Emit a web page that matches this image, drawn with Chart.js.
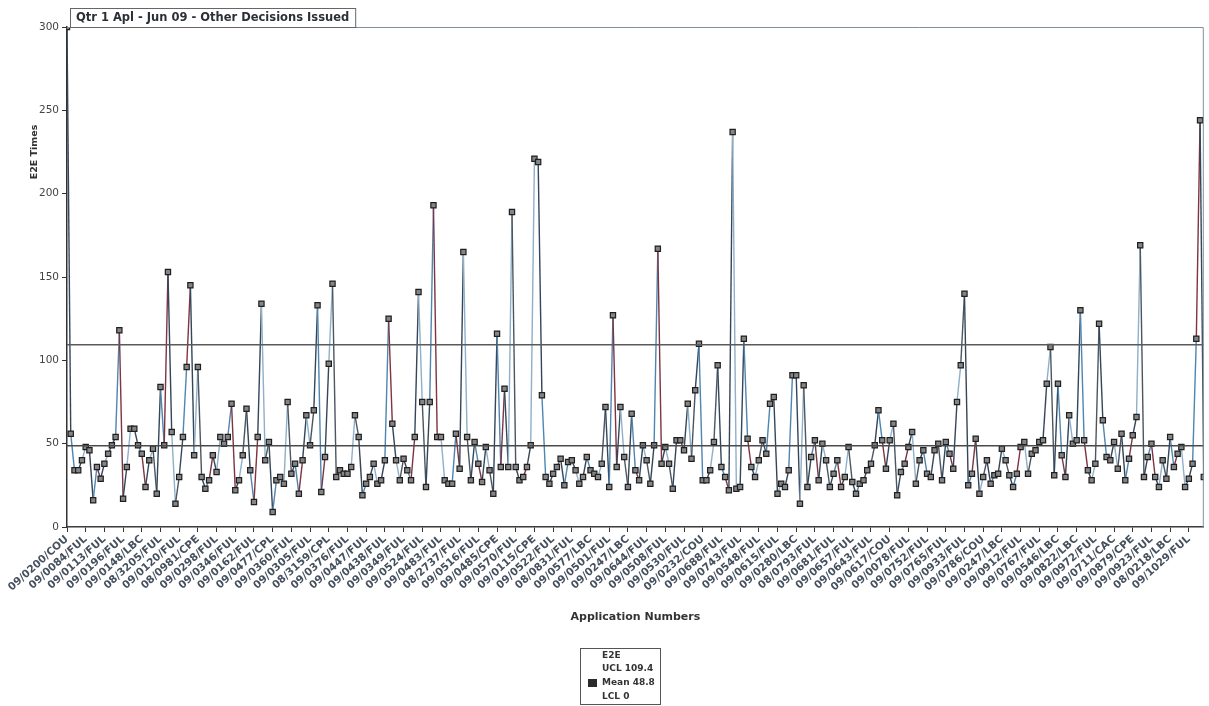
<!DOCTYPE html>
<html>
<head>
<meta charset="utf-8">
<title>Qtr 1 Apl - Jun 09 - Other Decisions Issued</title>
<script src="https://cdn.jsdelivr.net/npm/chart.js@4/dist/chart.umd.min.js"></script>
<style>
  body { margin: 0; background: #fff; }
  #wrap { width: 1209px; height: 706px; position: relative; }
</style>
</head>
<body>
<div id="wrap"><canvas id="controlChart"></canvas></div>
<script>
// labels shown on the x axis (every 5th application)
const tickLabels = [
    "09/0200/COU", "09/0084/FUL", "09/0113/FUL", "09/0196/FUL", "09/0148/LBC",
    "08/3205/FUL", "09/0120/FUL", "08/0981/CPE", "09/0298/FUL", "09/0346/FUL",
    "09/0162/FUL", "09/0477/CPL", "09/0360/FUL", "09/0305/FUL", "08/3159/CPL",
    "09/0376/FUL", "09/0447/FUL", "09/0438/FUL", "09/0349/FUL", "09/0524/FUL",
    "09/0483/FUL", "08/2737/FUL", "09/0516/FUL", "09/0485/CPE", "09/0570/FUL",
    "09/0115/CPE", "09/0522/FUL", "08/0831/FUL", "09/0577/LBC", "09/0501/FUL",
    "09/0247/LBC", "09/0644/FUL", "09/0508/FUL", "09/0530/FUL", "09/0232/COU",
    "09/0688/FUL", "09/0743/FUL", "09/0548/FUL", "09/0615/FUL", "09/0280/LBC",
    "08/0793/FUL", "09/0681/FUL", "09/0657/FUL", "09/0643/FUL", "09/0617/COU",
    "09/0078/FUL", "09/0752/FUL", "09/0765/FUL", "09/0933/FUL", "09/0786/COU",
    "09/0247/LBC", "09/0912/FUL", "09/0767/FUL", "09/0546/LBC", "09/0822/LBC",
    "09/0972/FUL", "09/0711/CAC", "09/0879/CPE", "09/0923/FUL", "08/0218/LBC",
    "09/1029/FUL"
];
const labelEvery = 5;

// E2E times, one per application
const e2eTimes = [
    300, 56, 34, 34, 40, 48, 46, 16, 36, 29, 38, 44, 49, 54, 118, 17, 36, 59, 59, 49,
    44, 24, 40, 47, 20, 84, 49, 153, 57, 14, 30, 54, 96, 145, 43, 96, 30, 23, 28, 43,
    33, 54, 50, 54, 74, 22, 28, 43, 71, 34, 15, 54, 134, 40, 51, 9, 28, 30, 26, 75,
    32, 38, 20, 40, 67, 49, 70, 133, 21, 42, 98, 146, 30, 34, 32, 32, 36, 67, 54, 19,
    26, 30, 38, 26, 28, 40, 125, 62, 40, 28, 41, 34, 28, 54, 141, 75, 24, 75, 193, 54,
    54, 28, 26, 26, 56, 35, 165, 54, 28, 51, 38, 27, 48, 34, 20, 116, 36, 83, 36, 189,
    36, 28, 30, 36, 49, 221, 219, 79, 30, 26, 32, 36, 41, 25, 39, 40, 34, 26, 30, 42,
    34, 32, 30, 38, 72, 24, 127, 36, 72, 42, 24, 68, 34, 28, 49, 40, 26, 49, 167, 38,
    48, 38, 23, 52, 52, 46, 74, 41, 82, 110, 28, 28, 34, 51, 97, 36, 30, 22, 237, 23,
    24, 113, 53, 36, 30, 40, 52, 44, 74, 78, 20, 26, 24, 34, 91, 91, 14, 85, 24, 42,
    52, 28, 50, 40, 24, 32, 40, 24, 30, 48, 27, 20, 26, 28, 34, 38, 49, 70, 52, 35,
    52, 62, 19, 33, 38, 48, 57, 26, 40, 46, 32, 30, 46, 50, 28, 51, 44, 35, 75, 97,
    140, 25, 32, 53, 20, 30, 40, 26, 31, 32, 47, 40, 31, 24, 32, 48, 51, 32, 44, 46,
    51, 52, 86, 108, 31, 86, 43, 30, 67, 50, 52, 130, 52, 34, 28, 38, 122, 64, 42, 40,
    51, 35, 56, 28, 41, 55, 66, 169, 30, 42, 50, 30, 24, 40, 29, 54, 36, 44, 48, 24,
    29, 38, 113, 244, 30
];

// control limits
const uclValue = 109.4;
const meanValue = 48.8;
const lclValue = 0;

const yTicks = [0, 50, 100, 150, 200, 250, 300];
const chartTitle = "Qtr 1 Apl - Jun 09 - Other Decisions Issued";
const yTitle = "E2E Times";
const seriesName = "E2E";

const segColors = ["#34465a", "#4f86b0", "#7e3442", "#34465a", "#8fb0c8", "#4b5661"];
const lastIndex = e2eTimes.length - 1;
const fontFam = "'DejaVu Sans', Verdana, sans-serif";

// title box, y title, plot frame and the small legend box
const extrasPlugin = {
    id: "extras",
    afterDraw(chart) {
        const ctx = chart.ctx;
        const area = chart.chartArea;
        ctx.save();
        ctx.strokeStyle = "#7f8fa0";
        ctx.lineWidth = 1;
        ctx.beginPath();
        ctx.moveTo(area.left, area.top + 0.5);
        ctx.lineTo(area.right - 0.5, area.top + 0.5);
        ctx.lineTo(area.right - 0.5, area.bottom);
        ctx.stroke();

        // chart title in a box
        ctx.font = "bold 11.5px " + fontFam;
        const tw = ctx.measureText(chartTitle).width;
        ctx.fillStyle = "#fff";
        ctx.fillRect(70, 8, tw + 12, 19);
        ctx.strokeStyle = "#666";
        ctx.strokeRect(70.5, 8.5, tw + 12, 19);
        ctx.fillStyle = "#2b2f36";
        ctx.textBaseline = "middle";
        ctx.textAlign = "left";
        ctx.fillText(chartTitle, 76, 18);

        // y axis title
        ctx.save();
        ctx.translate(35, 152);
        ctx.rotate(-Math.PI / 2);
        ctx.textAlign = "center";
        ctx.font = "bold 9.5px " + fontFam;
        ctx.fillStyle = "#333";
        ctx.fillText(yTitle, 0, 0);
        ctx.restore();

        // legend
        ctx.strokeStyle = "#555";
        ctx.strokeRect(580.5, 648.5, 80, 56);
        ctx.font = "bold 9px " + fontFam;
        ctx.fillStyle = "#333";
        ctx.fillText(seriesName, 602, 656);
        ctx.fillText("UCL " + uclValue, 602, 669);
        ctx.fillText("Mean " + meanValue, 602, 683);
        ctx.fillText("LCL " + lclValue, 602, 697);
        ctx.fillStyle = "#2a2a2a";
        ctx.fillRect(588, 679, 9, 8);
        ctx.restore();
    }
};

const ctx = document.getElementById("controlChart").getContext("2d");
new Chart(ctx, {
    type: "line",
    data: {
        datasets: [
            {
                label: seriesName,
                data: e2eTimes.map((v, i) => ({ x: i, y: v })),
                borderWidth: 1.4,
                segment: { borderColor: c => segColors[c.p0DataIndex % segColors.length] },
                pointStyle: "rect",
                pointRadius: 3.7,
                pointBackgroundColor: "#858585",
                pointBorderColor: "#1f1f1f",
                pointBorderWidth: 1.2,
                tension: 0,
                order: 1
            },
            {
                label: "UCL",
                data: [{ x: 0, y: uclValue }, { x: lastIndex, y: uclValue }],
                borderColor: "#5a5a5a",
                borderWidth: 1.5,
                pointRadius: 0,
                order: 0
            },
            {
                label: "Mean",
                data: [{ x: 0, y: meanValue }, { x: lastIndex, y: meanValue }],
                borderColor: "#4a4a4a",
                borderWidth: 1.5,
                pointRadius: 0,
                order: 0
            },
            {
                label: "LCL",
                data: [{ x: 0, y: lclValue }, { x: lastIndex, y: lclValue }],
                borderColor: "#4a4a4a",
                borderWidth: 1,
                pointRadius: 0,
                order: 0
            }
        ]
    },
    options: {
        responsive: true,
        maintainAspectRatio: false,
        animation: false,
        layout: { padding: { top: 27, right: 0, bottom: 0, left: 0 } },
        plugins: {
            legend: { display: false },
            tooltip: { enabled: false }
        },
        scales: {
            x: {
                type: "linear",
                min: 0,
                max: lastIndex,
                afterFit: s => { s.height = 179; s.paddingRight = 0; },
                afterBuildTicks: s => { s.ticks = tickLabels.map((l, k) => ({ value: k * labelEvery })); },
                grid: { drawOnChartArea: false, tickLength: 5, color: "#333" },
                border: { color: "#333", width: 1.5 },
                ticks: {
                    autoSkip: false,
                    minRotation: 42,
                    maxRotation: 42,
                    padding: 1,
                    color: "#45505e",
                    font: { family: fontFam, size: 10.5, weight: "bold" },
                    callback: v => tickLabels[v / labelEvery]
                },
                title: {
                    display: true,
                    text: "Application Numbers",
                    color: "#333",
                    font: { family: fontFam, size: 11, weight: "bold" },
                    padding: { top: 0, bottom: 82 }
                }
            },
            y: {
                min: 0,
                max: 300,
                afterFit: s => { s.width = 67; },
                afterBuildTicks: s => { s.ticks = yTicks.map(v => ({ value: v })); },
                grid: { drawOnChartArea: false, tickLength: 5, color: "#333" },
                border: { color: "#333", width: 1.5 },
                ticks: {
                    padding: 3,
                    color: "#444",
                    font: { family: fontFam, size: 10.5 }
                }
            }
        }
    },
    plugins: [extrasPlugin]
});
</script>
</body>
</html>
